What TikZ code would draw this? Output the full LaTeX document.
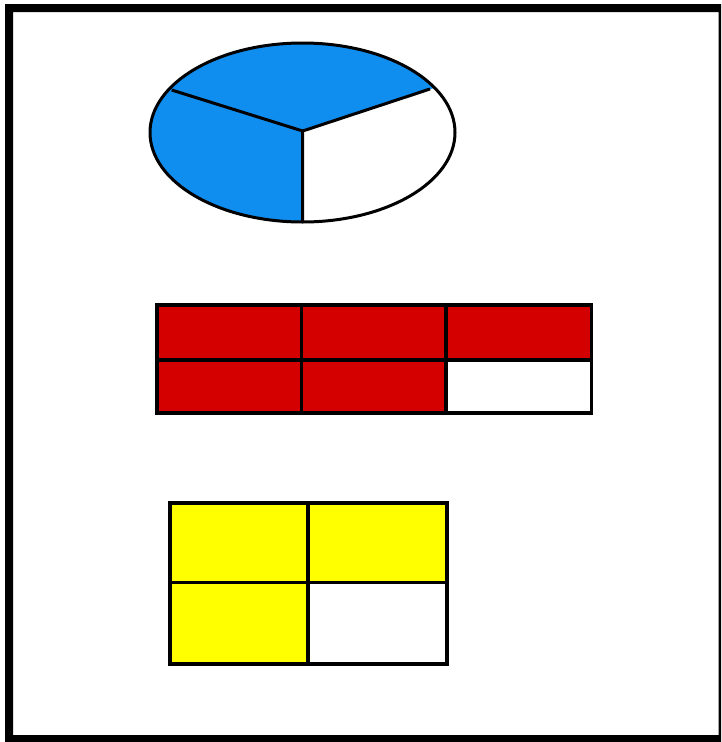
\documentclass[tikz,border=0pt]{standalone}
\begin{document}
\begin{tikzpicture}[x=1pt,y=-1pt,
  outl/.style={draw=black,line width=3pt},
  cell/.style={draw=black,line width=3.2pt,line join=miter}]
\definecolor{pieblue}{RGB}{16,142,240}
\definecolor{barred}{RGB}{212,0,0}
\definecolor{sqyellow}{RGB}{255,255,0}
\useasboundingbox (0,0) rectangle (721,742);
\fill[white] (0,0) rectangle (721,742);
% frame (thicker on left/top/bottom, thin on right)
\fill[black,even odd rule] (5,4) rectangle (721,742) (13,12) rectangle (718.5,735);
% pie (ellipse in thirds)
\coordinate (c) at (302.7,131);
\begin{scope}
  \clip (302.5,132.5) ellipse [x radius=152.5, y radius=89.5];
  \fill[pieblue] (c) -- (557.3,47.6) -- (557.3,0) -- (0,0) -- (0,400) -- (302.5,400) -- cycle;
\end{scope}
\draw[outl] (c) -- (171.7,90);
\draw[outl] (c) -- (430,89);
\draw[outl] (c) -- (302.5,222);
\draw[outl] (302.5,132.5) ellipse [x radius=152.5, y radius=89.5];
% red bar 3x2, five shaded
\fill[barred] (157,305) rectangle (591.5,413);
\fill[white] (446,360) rectangle (591.5,413);
\draw[cell] (157,305) rectangle (591.5,413);
\draw[cell] (157,360) -- (591.5,360);
\draw[cell] (301.7,305) -- (301.7,413);
\draw[cell] (446,305) -- (446,413);
% yellow square 2x2, three shaded
\fill[sqyellow] (170,503) rectangle (447,664);
\fill[white] (308,582.7) rectangle (447,664);
\draw[cell] (170,503) rectangle (447,664);
\draw[cell] (170,582.7) -- (447,582.7);
\draw[cell] (308,503) -- (308,664);
\end{tikzpicture}
\end{document}
